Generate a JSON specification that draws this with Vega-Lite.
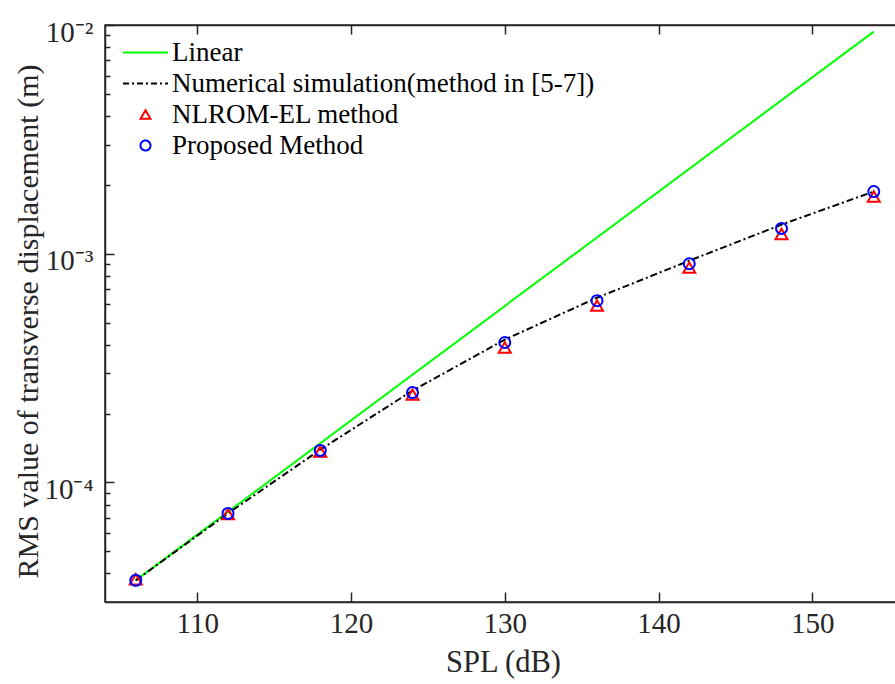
{
  "$schema": "https://vega.github.io/schema/vega-lite/v6.json",
  "width": 792,
  "height": 577,
  "autosize": "none",
  "padding": {"left": 105, "top": 25, "right": 0, "bottom": 82},
  "background": "white",
  "config": {"view": {"stroke": "#262626", "strokeWidth": 1.5}, "font": "Liberation Serif"},
  "datasets": {
    "lin": [
      {"spl": 106, "rms": 3.73e-5, "series": "Linear"},
      {"spl": 154, "rms": 9.35e-3, "series": "Linear"}
    ],
    "num": [
      {"spl": 106, "rms": 3.73e-5, "series": "Numerical simulation(method in [5-7])"},
      {"spl": 112, "rms": 7.32e-5, "series": "Numerical simulation(method in [5-7])"},
      {"spl": 118, "rms": 1.39e-4, "series": "Numerical simulation(method in [5-7])"},
      {"spl": 124, "rms": 2.52e-4, "series": "Numerical simulation(method in [5-7])"},
      {"spl": 130, "rms": 4.21e-4, "series": "Numerical simulation(method in [5-7])"},
      {"spl": 136, "rms": 6.42e-4, "series": "Numerical simulation(method in [5-7])"},
      {"spl": 142, "rms": 9.32e-4, "series": "Numerical simulation(method in [5-7])"},
      {"spl": 148, "rms": 1.34e-3, "series": "Numerical simulation(method in [5-7])"},
      {"spl": 154, "rms": 1.87e-3, "series": "Numerical simulation(method in [5-7])"}
    ],
    "nlrom": [
      {"spl": 106, "rms": 3.77e-5, "series": "NLROM-EL method"},
      {"spl": 112, "rms": 7.27e-5, "series": "NLROM-EL method"},
      {"spl": 118, "rms": 1.365e-4, "series": "NLROM-EL method"},
      {"spl": 124, "rms": 2.42e-4, "series": "NLROM-EL method"},
      {"spl": 130, "rms": 3.89e-4, "series": "NLROM-EL method"},
      {"spl": 136, "rms": 5.93e-4, "series": "NLROM-EL method"},
      {"spl": 142, "rms": 8.69e-4, "series": "NLROM-EL method"},
      {"spl": 148, "rms": 1.22e-3, "series": "NLROM-EL method"},
      {"spl": 154, "rms": 1.78e-3, "series": "NLROM-EL method"}
    ],
    "prop": [
      {"spl": 106, "rms": 3.73e-5, "series": "Proposed Method"},
      {"spl": 112, "rms": 7.32e-5, "series": "Proposed Method"},
      {"spl": 118, "rms": 1.38e-4, "series": "Proposed Method"},
      {"spl": 124, "rms": 2.47e-4, "series": "Proposed Method"},
      {"spl": 130, "rms": 4.09e-4, "series": "Proposed Method"},
      {"spl": 136, "rms": 6.23e-4, "series": "Proposed Method"},
      {"spl": 142, "rms": 9.04e-4, "series": "Proposed Method"},
      {"spl": 148, "rms": 1.29e-3, "series": "Proposed Method"},
      {"spl": 154, "rms": 1.87e-3, "series": "Proposed Method"}
    ]
  },
  "resolve": {"axis": {"x": "independent", "y": "independent"}},
  "layer": [
    {
      "data": {"name": "lin"},
      "mark": {"type": "line", "strokeWidth": 2},
      "encoding": {
        "x": {"field": "spl", "type": "quantitative",
          "scale": {"domain": [104, 155.51], "nice": false, "zero": false},
          "axis": {"orient": "bottom", "values": [110, 120, 130, 140, 150], "title": "SPL (dB)",
            "grid": false, "ticks": false, "labelPadding": 7, "labelFont": "Liberation Serif", "labelFontSize": 29,
            "labelColor": "#262626", "labelFlush": false, "labelOverlap": false,
            "domainColor": "#262626", "domainWidth": 1.5,
            "titleFont": "Liberation Serif", "titleFontSize": 30.5, "titleFontWeight": "normal", "titleColor": "#262626",
            "titleX": 398, "titleY": 69, "titleBaseline": "alphabetic", "titleAlign": "center", "titleAnchor": null}},
        "y": {"field": "rms", "type": "quantitative",
          "scale": {"type": "log", "domain": [3e-5, 1e-2], "nice": false},
          "axis": {"orient": "left", "values": [0.0001, 0.001, 0.01],
            "labelExpr": "datum.value < 0.0005 ? '10⁻⁴' : datum.value < 0.005 ? '10⁻³' : '10⁻²'",
            "title": "RMS value of transverse displacement (m)",
            "grid": false, "ticks": false, "labelPadding": 12, "labelOffset": 7, "labelFont": "Liberation Serif", "labelFontSize": 29,
            "labelColor": "#262626", "labelFlush": false, "labelOverlap": false, "labelBaseline": "middle",
            "domainColor": "#262626", "domainWidth": 1.5,
            "titleFont": "Liberation Serif", "titleFontSize": 30, "titleFontWeight": "normal", "titleColor": "#262626",
            "titleAngle": 270, "titleX": -68, "titleY": 296, "titleBaseline": "alphabetic", "titleAlign": "center", "titleAnchor": null}},
        "color": {"field": "series", "type": "nominal",
          "scale": {"domain": ["Linear", "Numerical simulation(method in [5-7])", "NLROM-EL method", "Proposed Method"],
                    "range": ["#00ff00", "#000000", "#ff0000", "#0000ff"]},
          "legend": {"orient": "none", "legendX": 17, "legendY": 12, "title": null,
            "symbolType": "stroke", "symbolSize": 2025, "symbolStrokeWidth": 2,
            "labelFont": "Liberation Serif", "labelFontSize": 27, "labelColor": "#000000", "labelOffset": 3, "labelLimit": 0,
            "clipHeight": 31, "rowPadding": 0, "padding": 0,
            "encode": {"symbols": {"update": {
              "shape": {"signal": "datum.value == 'NLROM-EL method' ? 'triangle-up' : datum.value == 'Proposed Method' ? 'circle' : 'stroke'"},
              "size": {"signal": "datum.value == 'NLROM-EL method' || datum.value == 'Proposed Method' ? 100 : 2025"},
              "strokeDash": {"signal": "datum.value == 'Numerical simulation(method in [5-7])' ? [6, 3, 2, 3] : [1, 0]"},
              "strokeWidth": {"value": 2},
              "fill": {"value": "transparent"},
              "fillOpacity": {"value": 0},
              "opacity": {"value": 1}
            }}}}}
      }
    },
    {
      "data": {"name": "num"},
      "mark": {"type": "line", "strokeWidth": 2, "strokeDash": [7, 3, 2, 3]},
      "encoding": {
        "x": {"field": "spl", "type": "quantitative",
          "axis": {"orient": "bottom", "offset": -10, "values": [110, 120, 130, 140, 150], "labels": false, "title": null, "grid": false,
            "domain": false, "tickSize": 10, "tickColor": "#262626", "tickWidth": 1.5}},
        "y": {"field": "rms", "type": "quantitative",
          "axis": {"orient": "left", "offset": -9, "values": [0.0001, 0.001, 0.01],
            "labels": false, "title": null, "grid": false, "domain": false, "tickSize": 9, "tickColor": "#262626", "tickWidth": 1.5}},
        "color": {"field": "series", "type": "nominal"}
      }
    },
    {
      "data": {"name": "nlrom"},
      "mark": {"type": "point", "shape": "triangle-up", "filled": false, "size": 144, "strokeWidth": 2, "opacity": 1},
      "encoding": {
        "x": {"field": "spl", "type": "quantitative",
          "axis": {"orient": "top", "labels": false, "ticks": false, "title": null, "grid": false,
            "domain": true, "domainColor": "#262626", "domainWidth": 1.5}},
        "y": {"field": "rms", "type": "quantitative",
          "axis": {"orient": "left", "offset": -5, "values": [4e-5, 5e-5, 6e-5, 7e-5, 8e-5, 9e-5, 2e-4, 3e-4, 4e-4, 5e-4, 6e-4, 7e-4, 8e-4, 9e-4, 2e-3, 3e-3, 4e-3, 5e-3, 6e-3, 7e-3, 8e-3, 9e-3],
            "labels": false, "title": null, "grid": false, "domain": false, "tickSize": 5, "tickColor": "#262626", "tickWidth": 1.5}},
        "color": {"field": "series", "type": "nominal"}
      }
    },
    {
      "data": {"name": "prop"},
      "mark": {"type": "point", "shape": "circle", "filled": false, "size": 121, "strokeWidth": 2, "opacity": 1},
      "encoding": {
        "x": {"field": "spl", "type": "quantitative",
          "axis": {"orient": "top", "offset": -9, "values": [110, 120, 130, 140, 150], "labels": false, "title": null, "grid": false,
            "domain": false, "tickSize": 9, "tickColor": "#262626", "tickWidth": 1.5}},
        "y": {"field": "rms", "type": "quantitative", "axis": null},
        "color": {"field": "series", "type": "nominal"}
      }
    }
  ]
}
